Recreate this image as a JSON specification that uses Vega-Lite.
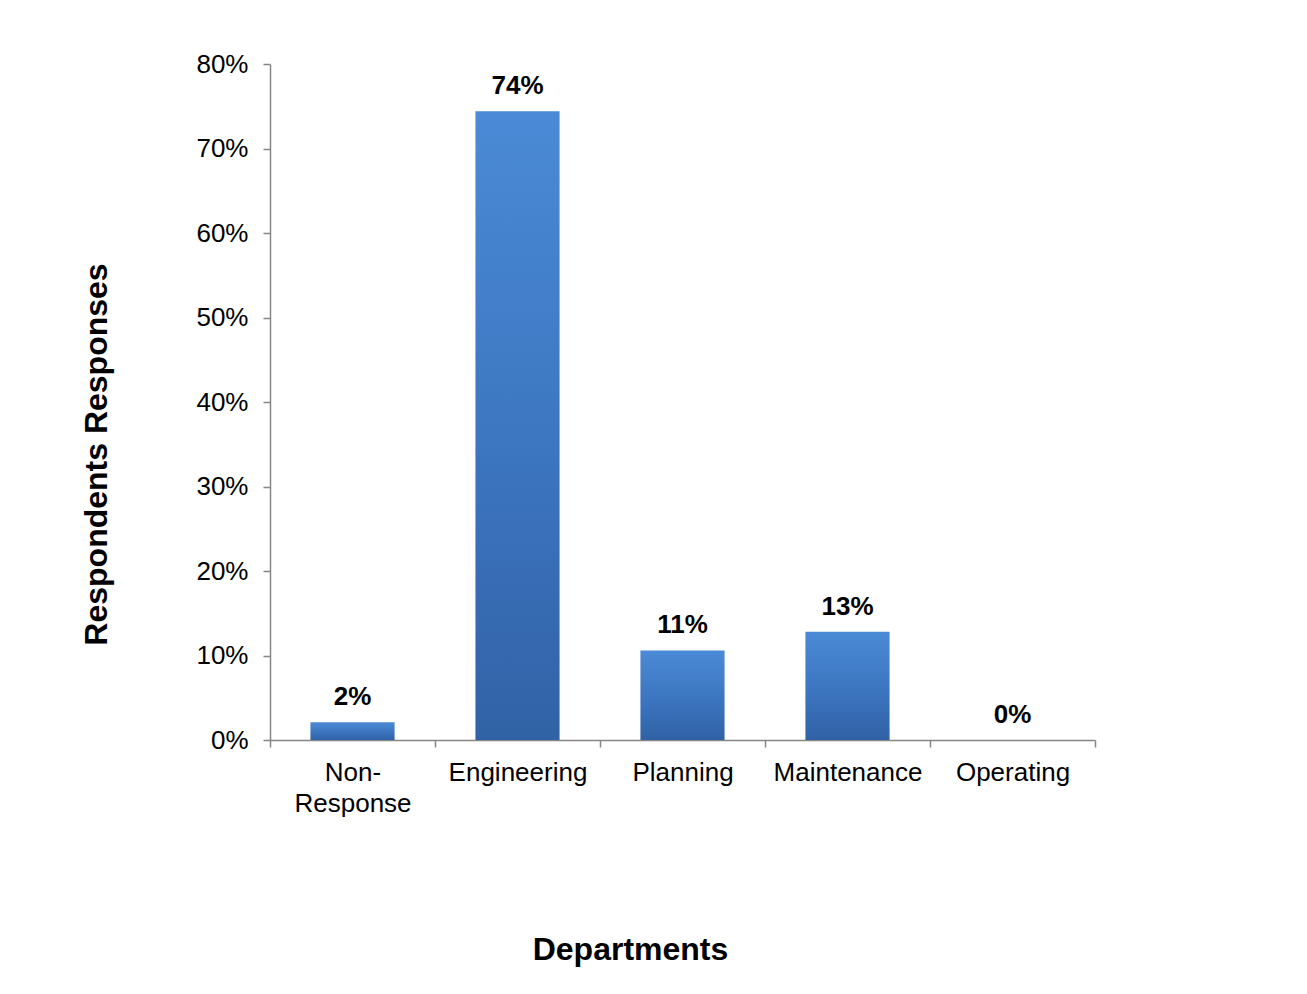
{
  "$schema": "https://vega.github.io/schema/vega-lite/v6.json",
  "width": 825,
  "height": 676,
  "autosize": {"type": "none"},
  "padding": {"left": 270, "top": 64, "right": 212, "bottom": 254},
  "background": "white",
  "config": {
    "view": {"stroke": null},
    "font": "Liberation Sans"
  },
  "data": {
    "values": [
      {"department": "Non-|Response", "share": 0.021},
      {"department": "Engineering", "share": 0.744},
      {"department": "Planning", "share": 0.106},
      {"department": "Maintenance", "share": 0.128},
      {"department": "Operating", "share": 0.0}
    ]
  },
  "encoding": {
    "x": {
      "field": "department",
      "type": "nominal",
      "sort": null,
      "scale": {"paddingInner": 0, "paddingOuter": 0},
      "axis": {
        "title": "Departments",
        "titleFont": "Liberation Sans",
        "titleFontSize": 32,
        "titleFontWeight": "bold",
        "titleColor": "#000000",
        "titleX": 360,
        "titleY": 219,
        "titleBaseline": "alphabetic",
        "titleAlign": "center",
        "labelAngle": 0,
        "labelFontSize": 26,
        "labelColor": "#000000",
        "labelPadding": 12,
        "labelLineHeight": 31,
        "labelExpr": "split(datum.label, '|')",
        "tickBand": "extent",
        "tickSize": 7,
        "tickColor": "#868686",
        "domainColor": "#868686",
        "domainWidth": 1.5,
        "tickWidth": 1.5,
        "grid": false
      }
    },
    "y": {
      "field": "share",
      "type": "quantitative",
      "scale": {"domain": [0, 0.8], "nice": false},
      "axis": {
        "title": "Respondents Responses",
        "titleFont": "Liberation Sans",
        "titleFontSize": 32,
        "titleFontWeight": "bold",
        "titleColor": "#000000",
        "titleAngle": 270,
        "titleX": -164,
        "titleY": 390,
        "titleBaseline": "alphabetic",
        "titleAlign": "center",
        "values": [0, 0.1, 0.2, 0.3, 0.4, 0.5, 0.6, 0.7, 0.8],
        "format": ".0%",
        "labelFontSize": 26,
        "labelColor": "#000000",
        "labelPadding": 15,
        "tickSize": 7,
        "tickColor": "#868686",
        "domainColor": "#868686",
        "domainWidth": 1.5,
        "tickWidth": 1.5,
        "grid": false
      }
    }
  },
  "layer": [
    {
      "mark": {
        "type": "bar",
        "width": {"band": 0.51},
        "color": {
          "gradient": "linear",
          "x1": 0, "y1": 0, "x2": 0, "y2": 1,
          "stops": [
            {"offset": 0, "color": "#4b8ad6"},
            {"offset": 0.5, "color": "#3d77c2"},
            {"offset": 1, "color": "#3162a6"}
          ]
        }
      }
    },
    {
      "mark": {
        "type": "text",
        "dy": -17,
        "baseline": "alphabetic",
        "fontSize": 26,
        "fontWeight": "bold",
        "color": "#000000"
      },
      "encoding": {
        "text": {"field": "share", "type": "quantitative", "format": ".0%"}
      }
    }
  ]
}
